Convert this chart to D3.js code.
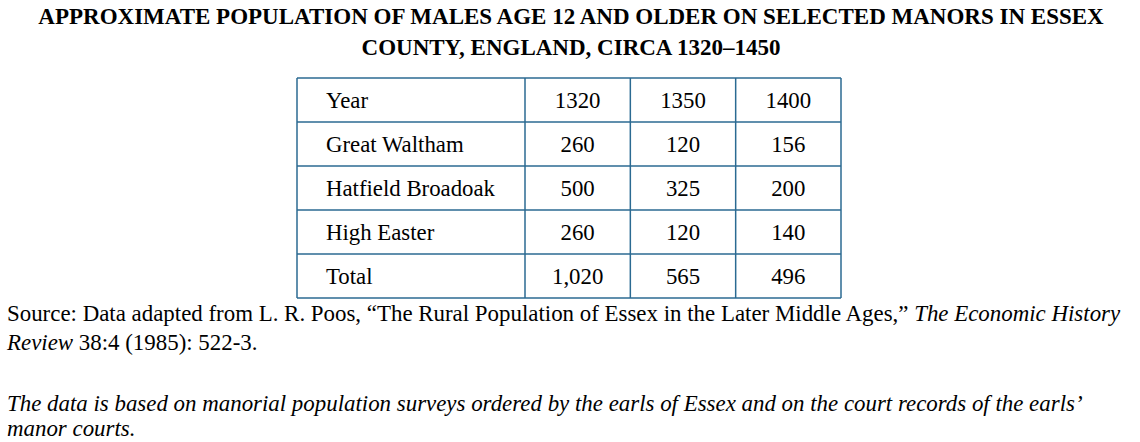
<!DOCTYPE html>
<html>
  <head>
    <meta charset="utf-8">
    <title>Approximate population of males age 12 and older</title>
    <script src="https://cdn.jsdelivr.net/npm/d3@7"></script>
    <style>
      body { margin: 0; background: #fff; }
      svg { display: block; font-family: "Liberation Serif", "Times New Roman", serif; }
    </style>
  </head>
  <body>
    <div id="chart"></div>
    <script>
    // data
    var years = ["1320", "1350", "1400"];
    var manors = ["Great Waltham", "Hatfield Broadoak", "High Easter", "Total"];
    var values = [
        ["260", "120", "156"],
        ["500", "325", "200"],
        ["260", "120", "140"],
        ["1,020", "565", "496"]
    ];
    var titleLines = [
        "APPROXIMATE POPULATION OF MALES AGE 12 AND OLDER ON SELECTED MANORS IN ESSEX",
        "COUNTY, ENGLAND, CIRCA 1320\u20131450"
    ];

    (function(){
        var W = 1140, H = 442;
        var BORDER = "#2b6a92";
        var LEFT = 297, FIRST_COL = 228, RIGHT = 841;
        var TOP = 78, BOTTOM = 298;

        var svg = d3.select("#chart").append("svg")
                    .attr("width", W)
                    .attr("height", H);

        // title
        svg.selectAll("text.title")
           .data(titleLines)
           .enter()
           .append("text")
           .attr("class", "title")
           .attr("x", W / 2 + 1)
           .attr("y", function(d, i){ return 24 + i * 31; })
           .attr("text-anchor", "middle")
           .attr("font-weight", "bold")
           .attr("font-size", 23)
           .text(function(d){ return d; });

        var rows = ["Year"].concat(manors);
        var cells = [years].concat(values);

        var y = d3.scaleBand().domain(rows).range([TOP, BOTTOM]);
        var x = d3.scaleBand().domain(years).range([LEFT + FIRST_COL, RIGHT]);

        var g = svg.append("g");

        // horizontal rules
        g.selectAll("line.h")
         .data(rows.concat(["_end"]))
         .enter()
         .append("line")
         .attr("x1", LEFT).attr("x2", RIGHT)
         .attr("y1", function(d, i){ return i < rows.length ? y(d) : BOTTOM; })
         .attr("y2", function(d, i){ return i < rows.length ? y(d) : BOTTOM; })
         .attr("stroke", BORDER)
         .attr("stroke-width", 1.5);

        // vertical rules
        var vx = [LEFT].concat(years.map(function(d){ return x(d); })).concat([RIGHT]);
        g.selectAll("line.v")
         .data(vx)
         .enter()
         .append("line")
         .attr("x1", function(d){ return d; })
         .attr("x2", function(d){ return d; })
         .attr("y1", TOP).attr("y2", BOTTOM)
         .attr("stroke", BORDER)
         .attr("stroke-width", 1.5);

        // row labels
        g.selectAll("text.label")
         .data(rows)
         .enter()
         .append("text")
         .attr("x", LEFT + 29)
         .attr("y", function(d){ return y(d) + y.bandwidth() / 2; })
         .attr("dy", "0.35em")
         .attr("font-size", 22.8)
         .text(function(d){ return d; });

        // cell values
        rows.forEach(function(r, ri){
            g.selectAll("text.c" + ri)
             .data(cells[ri])
             .enter()
             .append("text")
             .attr("x", function(d, ci){ return x(years[ci]) + x.bandwidth() / 2; })
             .attr("y", y(r) + y.bandwidth() / 2)
             .attr("dy", "0.35em")
             .attr("text-anchor", "middle")
             .attr("font-size", 22.8)
             .text(function(d){ return d; });
        });

        // source
        var src = svg.append("text").attr("x", 7).attr("y", 321).attr("font-size", 22.9);
        src.append("tspan").text("Source: Data adapted from L. R. Poos, \u201cThe Rural Population of Essex in the Later Middle Ages,\u201d ");
        src.append("tspan").attr("font-style", "italic").text("The Economic History");
        var src2 = svg.append("text").attr("x", 7).attr("y", 350).attr("font-size", 22.9);
        src2.append("tspan").attr("font-style", "italic").text("Review");
        src2.append("tspan").text(" 38:4 (1985): 522-3.");

        // note
        svg.selectAll("text.note")
           .data(["The data is based on manorial population surveys ordered by the earls of Essex and on the court records of the earls\u2019",
                  "manor courts."])
           .enter()
           .append("text")
           .attr("x", 7)
           .attr("y", function(d, i){ return 411 + i * 25; })
           .attr("font-size", 22.9)
           .attr("font-style", "italic")
           .text(function(d){ return d; });
    })();
    </script>
  </body>
</html>
